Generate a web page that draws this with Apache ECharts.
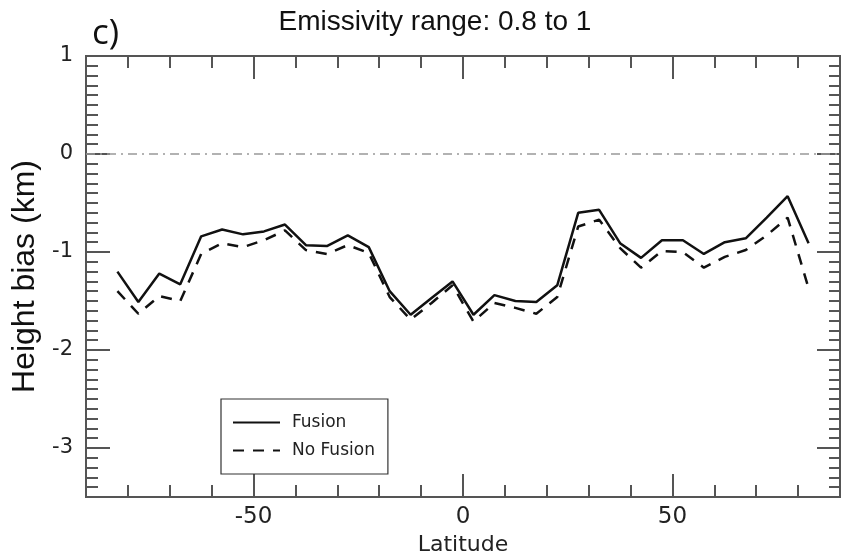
<!DOCTYPE html>
<html>
<head>
<meta charset="utf-8">
<script src="https://cdn.jsdelivr.net/npm/echarts@6/dist/echarts.min.js"></script>
<style>html,body{margin:0;padding:0;background:#fff;}#c{width:841px;height:552px;}</style>
</head>
<body>
<div id="c"></div>
<script>
const latitudes = [-82.5,-77.5,-72.5,-67.5,-62.5,-57.5,-52.5,-47.5,-42.5,-37.5,-32.5,-27.5,-22.5,-17.5,-12.5,-7.5,-2.5,2.5,7.5,12.5,17.5,22.5,27.5,32.5,37.5,42.5,47.5,52.5,57.5,62.5,67.5,72.5,77.5,82.5];
const fusion = [-1.20,-1.51,-1.22,-1.33,-0.84,-0.77,-0.82,-0.79,-0.72,-0.93,-0.94,-0.83,-0.95,-1.40,-1.64,-1.47,-1.30,-1.64,-1.44,-1.50,-1.51,-1.34,-0.60,-0.57,-0.91,-1.06,-0.88,-0.88,-1.02,-0.90,-0.86,-0.65,-0.43,-0.91];
const noFusion = [-1.40,-1.63,-1.45,-1.50,-1.02,-0.91,-0.95,-0.88,-0.78,-0.98,-1.02,-0.93,-1.01,-1.46,-1.69,-1.52,-1.34,-1.71,-1.52,-1.57,-1.63,-1.46,-0.74,-0.67,-0.96,-1.16,-0.99,-1.00,-1.16,-1.05,-0.98,-0.83,-0.65,-1.37];
const xMajorTicks = [-50, 0, 50];
const xMinorTicks = [-80,-70,-60,-40,-30,-20,-10,10,20,30,40,60,70,80];
const yMajorTicks = [-3, -2, -1, 0, 1];
const yMinorTicks = [];
for (let k = -34; k <= 9; k++) { if (k % 10 !== 0) yMinorTicks.push(k / 10); }
const seriesNames = ['Fusion', 'No Fusion'];

const chart = echarts.init(document.getElementById('c'));
const axisColor = '#555';
const tickFont = 'DejaVu Sans';

function xAx(pos, ticks, len, labels) {
  return {
    type: 'value', min: -90, max: 90, position: pos,
    axisLine: { show: true, onZero: false, lineStyle: { color: axisColor, width: 2 } },
    axisTick: { show: true, inside: true, length: len, customValues: ticks, lineStyle: { color: axisColor, width: 2 } },
    axisLabel: labels ? { show: true, customValues: ticks, fontSize: 23, color: '#222', fontFamily: tickFont, margin: 9 } : { show: false },
    splitLine: { show: false },
    name: labels ? 'Latitude' : '',
    nameLocation: 'middle', nameGap: 31,
    nameTextStyle: { fontSize: 22, color: '#222', fontFamily: tickFont, verticalAlign: 'top' }
  };
}
function yAx(pos, ticks, len, labels) {
  return {
    type: 'value', min: -3.5, max: 1, position: pos,
    axisLine: { show: true, onZero: false, lineStyle: { color: axisColor, width: 2 } },
    axisTick: { show: true, inside: true, length: len, customValues: ticks, lineStyle: { color: axisColor, width: 2 } },
    axisLabel: labels ? { show: true, customValues: ticks, fontSize: 21, color: '#222', fontFamily: tickFont, margin: 13 } : { show: false },
    splitLine: { show: false },
    name: labels ? 'Height bias (km)' : '',
    nameLocation: 'middle', nameGap: 42, nameRotate: 90,
    nameTextStyle: { fontSize: 32, color: '#111', fontFamily: 'Liberation Sans' }
  };
}

chart.setOption({
  animation: false,
  backgroundColor: '#fff',
  title: {
    text: 'Emissivity range: 0.8 to 1', left: 430, top: 3, textAlign: 'center',
    textStyle: { fontSize: 28, fontWeight: 'normal', color: '#111', fontFamily: 'Liberation Sans' }
  },
  graphic: [{
    type: 'text', x: 92, y: 34,
    style: { text: 'c)', fontSize: 35, fill: '#111', fontFamily: 'Open Sans', verticalAlign: 'middle' }
  }],
  grid: { left: 86, right: 1, top: 56, bottom: 55, containLabel: false, outerBoundsMode: 'none' },
  xAxis: [
    xAx('bottom', xMinorTicks, 12, false),
    xAx('bottom', xMajorTicks, 23, true),
    xAx('top', xMinorTicks, 12, false),
    xAx('top', xMajorTicks, 23, false)
  ],
  yAxis: [
    yAx('left', yMinorTicks, 12, false),
    yAx('left', yMajorTicks, 24, true),
    yAx('right', yMinorTicks, 11, false),
    yAx('right', yMajorTicks, 23, false)
  ],
  legend: {
    orient: 'vertical', left: 221, top: 399,
    data: seriesNames,
    itemWidth: 47, itemHeight: 14, itemGap: 11,
    padding: [15, 13, 15, 11],
    borderColor: '#333', borderWidth: 1.2,
    itemStyle: { color: 'rgba(0,0,0,0)', borderColor: 'rgba(0,0,0,0)', borderWidth: 0, opacity: 0 },
    textStyle: { fontSize: 17, color: '#222', fontFamily: tickFont, padding: [0, 0, 0, 7] }
  },
  series: [
    {
      name: seriesNames[0], type: 'line', xAxisIndex: 1, yAxisIndex: 1,
      data: latitudes.map((x, i) => [x, fusion[i]]),
      symbol: 'none', showSymbol: false,
      lineStyle: { color: '#111', width: 2.5, type: 'solid' },
      itemStyle: { color: '#111' },
      markLine: {
        silent: true, symbol: 'none', label: { show: false },
        lineStyle: { color: '#999', width: 1.5, type: [9, 5, 2, 5] },
        data: [{ yAxis: 0 }]
      }
    },
    {
      name: seriesNames[1], type: 'line', xAxisIndex: 1, yAxisIndex: 1,
      data: latitudes.map((x, i) => [x, noFusion[i]]),
      symbol: 'none', showSymbol: false,
      lineStyle: { color: '#111', width: 2.5, type: [11, 9] },
      itemStyle: { color: '#111' }
    }
  ]
});
</script>
</body>
</html>
